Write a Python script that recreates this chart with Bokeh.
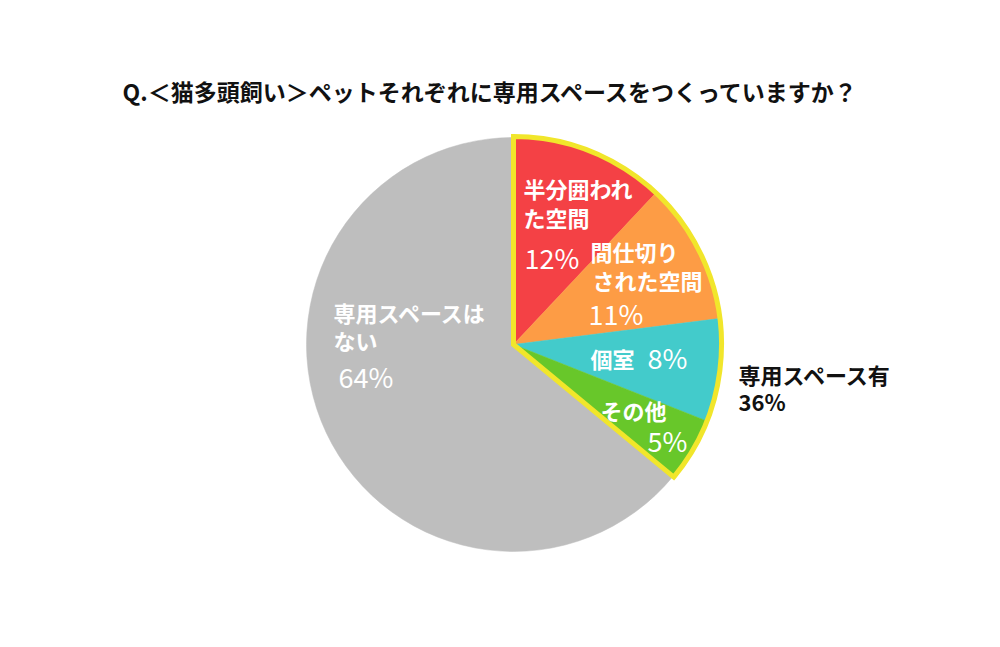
import numpy as np
from bokeh.plotting import figure
from bokeh.models import Range1d, ColumnDataSource
from bokeh.core.properties import value
from bokeh.embed import file_html
from bokeh.resources import INLINE

# ---- data ----
title = "Q.＜猫多頭飼い＞ペットそれぞれに専用スペースをつくっていますか？"
categories = ["半分囲われた空間", "間仕切りされた空間", "個室", "その他", "専用スペースはない"]
values = [12, 11, 8, 5, 64]
colors = ["#f44145", "#fd9c45", "#43cbcb", "#68c72a", "#bebebe"]
name_lines = [["半分囲われ", "た空間"], ["間仕切り", "された空間"], ["個室"], ["その他"], ["専用スペースは", "ない"]]
pct_labels = ["12%", "11%", "8%", "5%", "64%"]
group_label = ["専用スペース有", "36%"]
group_value = 36

W, H = 1000, 647
def Y(px):
    return H - px

p = figure(width=W, height=H, x_range=Range1d(0, W), y_range=Range1d(0, H),
           output_backend="svg", toolbar_location=None, min_border=0)
p.axis.visible = False
p.grid.visible = False
p.outline_line_color = None
p.background_fill_color = "white"
p.border_fill_color = "white"

cx, cy, r = 513, Y(344), 207
vals = np.array(values, dtype=float)
frac = vals / vals.sum()
cum = np.concatenate([[0], np.cumsum(frac)])
start = np.pi / 2 - cum[1:] * 2 * np.pi
end = np.pi / 2 - cum[:-1] * 2 * np.pi
src = ColumnDataSource(dict(start=start, end=end, color=colors, cat=categories))
p.wedge(x=cx, y=cy, radius=r, start_angle="start", end_angle="end",
        fill_color="color", line_color="color", line_width=0.5, source=src)

# highlight outline for the "有" group
g = group_value / vals.sum()
p.wedge(x=cx, y=cy, radius=r + 1, start_angle=np.pi / 2 - g * 2 * np.pi, end_angle=np.pi / 2,
        fill_color=None, line_color="#f1e62b", line_width=5, line_join="miter")

# title
p.text(x=[122], y=[Y(90)], text=[title], text_font=value("Noto Sans CJK JP"),
       text_font_style="bold", text_font_size="23px", text_color="#111111",
       text_baseline="middle", text_align="left")

# category name labels (px positions)
name_pos = [[(523, 187), (523, 216)], [(590, 250), (592, 279)], [(590, 357)], [(600, 409)], [(333, 311), (333, 339)]]
nx, ny, nt = [], [], []
for lines, poss in zip(name_lines, name_pos):
    for t, (x, y) in zip(lines, poss):
        nx.append(x); ny.append(Y(y)); nt.append(t)
p.text(x=nx, y=ny, text=nt, text_font=value("Noto Sans CJK JP"), text_font_style="bold",
       text_font_size="22px", text_color="white", text_baseline="middle", text_align="left")

pct_pos = [(524, 257), (588, 313), (647, 357), (647, 440), (338, 376)]
p.text(x=[a for a, b in pct_pos], y=[Y(b) for a, b in pct_pos], text=pct_labels,
       text_font=value("Noto Sans CJK JP"), text_font_size="27px", text_color="white",
       text_baseline="middle", text_align="left")

p.text(x=[738, 738], y=[Y(373), Y(400)], text=group_label, text_font=value("Noto Sans CJK JP"),
       text_font_style="bold", text_font_size="22px", text_color="#111111",
       text_baseline="middle", text_align="left")

open("out.html", "w").write(file_html(p, INLINE))
